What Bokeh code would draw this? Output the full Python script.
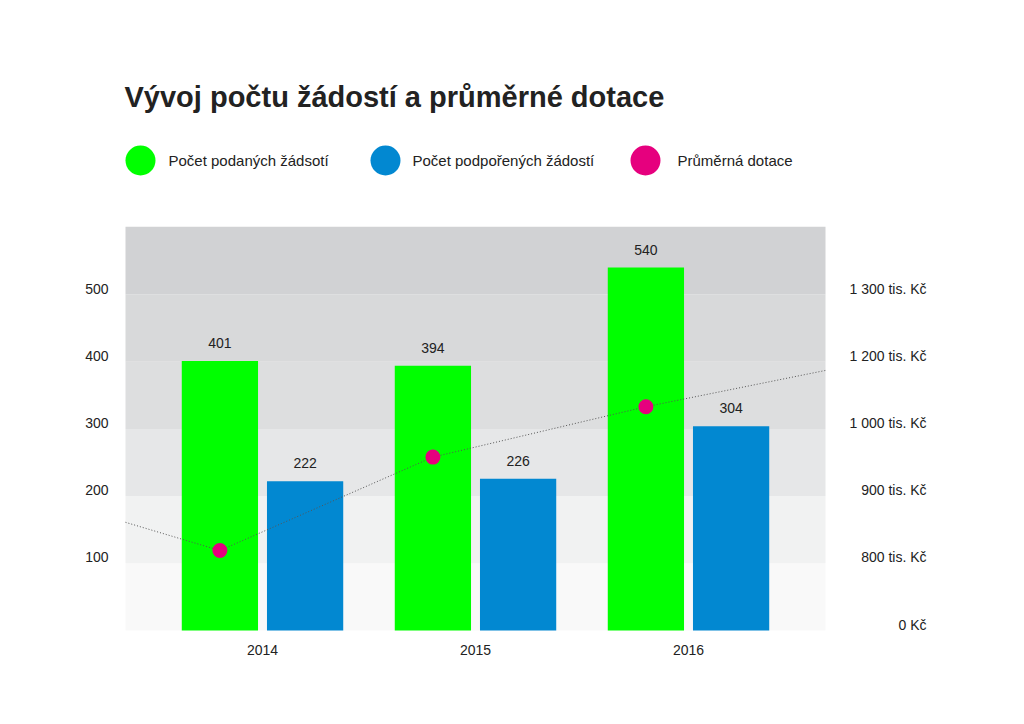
import numpy as np
from bokeh.plotting import figure
from bokeh.models import Range1d, ColumnDataSource
from bokeh.core.properties import value
from bokeh.embed import file_html
from bokeh.resources import INLINE

# ---------------- data ----------------
title = "Vývoj počtu žádostí a průměrné dotace"
years = ["2014", "2015", "2016"]
podane = [401, 394, 540]          # Počet podaných žádostí
podporene = [222, 226, 304]       # Počet podpořených žádostí
prumerna_dotace = [819, 958, 1066]  # Průměrná dotace (tis. Kč)
# dotted trend line continues to the edges of the plot area (tis. Kč)
trend_left = 861
trend_right = 1174
legend_labels = ["Počet podaných žádsotí", "Počet podpořených žádostí", "Průměrná dotace"]

left_ticks = [100, 200, 300, 400, 500]
left_tick_labels = ["100", "200", "300", "400", "500"]
right_tick_pos = [0, 100, 200, 300, 400, 500]
right_tick_values = [0, 800, 900, 1000, 1200, 1300]   # tis. Kč
right_tick_labels = ["0 Kč", "800 tis. Kč", "900 tis. Kč", "1 000 tis. Kč", "1 200 tis. Kč", "1 300 tis. Kč"]
band_edges = [0, 100, 200, 300, 400, 500, 601]

# ---------------- styling / layout ----------------
W, H = 1024, 724
X0_PX, PX_PER_X = 262.0, 213.0   # x index 0 sits at 262px
Y0_PX, PX_PER_Y = 630.0, 0.672   # value 0 sits at 630px
def dx(px):
    return (px - X0_PX) / PX_PER_X
def dy(py):
    return (Y0_PX - py) / PX_PER_Y

FONT = value("Liberation Sans")
TXT = "#222222"
GREEN, BLUE, PINK = "#00ff00", "#0288d1", "#e6007e"
band_colors = ["#f9f9f9", "#f1f2f2", "#e6e7e8", "#dddedf", "#d8d9da", "#d1d2d4"]
BAR_OFF, BAR_W = 0.2, 0.358
PLOT_L, PLOT_R = dx(125), dx(825)

p = figure(width=W, height=H, output_backend="svg", toolbar_location=None,
           x_range=Range1d(dx(0), dx(W)), y_range=Range1d(dy(H), dy(0)),
           x_axis_type=None, y_axis_type=None, min_border=0)
p.outline_line_color = None
p.grid.visible = False
p.background_fill_color = "white"
p.border_fill_color = "white"

idx = np.arange(len(years))

# background bands
p.quad(left=PLOT_L, right=PLOT_R, bottom=band_edges[:-1], top=band_edges[1:],
       fill_color=band_colors, line_color=None)

# bars
src = ColumnDataSource(dict(x1=idx - BAR_OFF, x2=idx + BAR_OFF, podane=podane, podporene=podporene,
                            l1=[str(v) for v in podane], l2=[str(v) for v in podporene]))
p.vbar(x="x1", top="podane", bottom=0, width=BAR_W, source=src, fill_color=GREEN, line_color=None)
p.vbar(x="x2", top="podporene", bottom=0, width=BAR_W, source=src, fill_color=BLUE, line_color=None)
p.text(x="x1", y="podane", text="l1", source=src, text_align="center", text_baseline="middle",
       y_offset=-18, text_font=FONT, text_font_size="14px", text_color=TXT)
p.text(x="x2", y="podporene", text="l2", source=src, text_align="center", text_baseline="middle",
       y_offset=-18, text_font=FONT, text_font_size="14px", text_color=TXT)

# average subsidy mapped onto the (piecewise) right axis
def to_pos(v):
    return np.interp(v, right_tick_values, right_tick_pos)

line_x = [PLOT_L] + list(idx - BAR_OFF) + [PLOT_R]
line_y = to_pos([trend_left] + prumerna_dotace + [trend_right])
p.line(line_x, line_y, line_color="#555555", line_width=1, line_dash="1 2")
p.scatter(idx - BAR_OFF, to_pos(prumerna_dotace), size=15, fill_color=PINK, line_color=None)

# left tick labels
p.text(x=[dx(108)] * len(left_ticks), y=left_ticks, text=left_tick_labels, text_align="right",
       text_baseline="middle", y_offset=-6, text_font=FONT, text_font_size="14px", text_color=TXT)
# right tick labels
p.text(x=[dx(926)] * len(right_tick_pos), y=right_tick_pos, text=right_tick_labels, text_align="right",
       text_baseline="middle", y_offset=-6, text_font=FONT, text_font_size="14px", text_color=TXT)
# year labels
p.text(x=idx, y=[dy(649)] * len(years), text=years, text_align="center", text_baseline="middle",
       text_font=FONT, text_font_size="14px", text_color=TXT)

# title
p.text(x=[dx(124)], y=[dy(96)], text=[title], text_align="left", text_baseline="middle",
       text_font=FONT, text_font_size="29px", text_font_style="bold", text_color=TXT)

# legend
leg_circle_px = [140, 385, 645]
leg_text_px = [168, 412, 677]
p.scatter([dx(v) for v in leg_circle_px], [dy(160)] * 3, size=30,
          fill_color=[GREEN, BLUE, PINK], line_color=None)
p.text(x=[dx(v) for v in leg_text_px], y=[dy(160)] * 3, text=legend_labels, text_align="left",
       text_baseline="middle", text_font=FONT, text_font_size="15px", text_color=TXT)

open("out.html", "w").write(file_html(p, INLINE))
